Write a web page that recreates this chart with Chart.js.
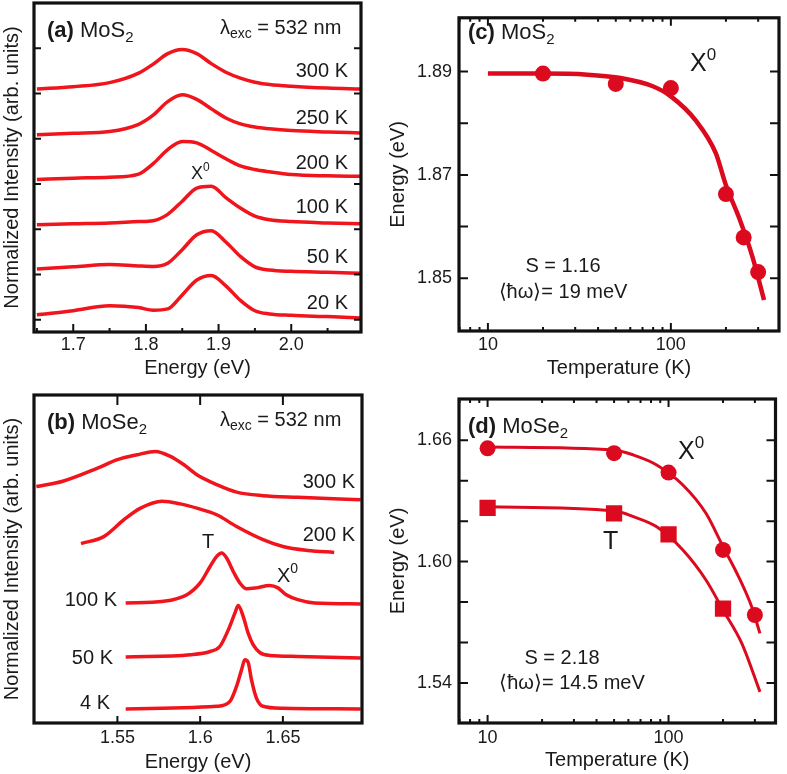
<!DOCTYPE html>
<html>
<head>
<meta charset="utf-8">
<script src="https://cdn.jsdelivr.net/npm/chart.js@4.4.1/dist/chart.umd.min.js"></script>
<style>
  html, body { margin: 0; padding: 0; background: #fff; }
  #wrap { position: relative; width: 787px; height: 774px; }
  .panel { position: absolute; }
</style>
</head>
<body>
<div id="wrap">
  <div class="panel" style="left:0;top:0"><canvas id="chartA" width="370" height="380"></canvas></div>
  <div class="panel" style="left:0;top:380px"><canvas id="chartB" width="370" height="394"></canvas></div>
  <div class="panel" style="left:370px;top:0"><canvas id="chartC" width="417" height="380"></canvas></div>
  <div class="panel" style="left:370px;top:380px"><canvas id="chartD" width="417" height="394"></canvas></div>
</div>
<script>
const FONT = '"Liberation Sans", Arial, Helvetica, sans-serif';
const INK = '#1a1a1a';
const RED = '#f0141c';
const DARK_RED = '#dc0a1e';

// ---- (a) MoS2 PL spectra, normalized, stacked by offset ----
const mos2Energy = [1.65, 1.70, 1.75, 1.79, 1.81, 1.83, 1.85, 1.87, 1.89, 1.91, 1.93, 1.95, 1.97, 2.00, 2.05, 2.095];
const mos2Labels = ['20 K', '50 K', '100 K', '200 K', '250 K', '300 K'];
const mos2Offsets = [0, 1, 2, 3, 4, 5];
const mos2I20  = [0.11, 0.20, 0.31, 0.27, 0.21, 0.24, 0.55, 0.88, 0.98, 0.75, 0.43, 0.20, 0.13, 0.10, 0.07, 0.04];
const mos2I50  = [0.12, 0.17, 0.22, 0.19, 0.18, 0.25, 0.55, 0.88, 0.97, 0.72, 0.40, 0.17, 0.10, 0.07, 0.05, 0.03];
const mos2I100 = [0.10, 0.12, 0.14, 0.17, 0.19, 0.33, 0.62, 0.91, 0.95, 0.70, 0.47, 0.29, 0.21, 0.17, 0.14, 0.12];
const mos2I200 = [0.10, 0.13, 0.15, 0.22, 0.45, 0.76, 0.94, 0.91, 0.74, 0.56, 0.40, 0.32, 0.27, 0.21, 0.18, 0.17];
const mos2I250 = [0.09, 0.12, 0.16, 0.32, 0.52, 0.82, 0.97, 0.87, 0.66, 0.46, 0.33, 0.26, 0.22, 0.18, 0.15, 0.13];
const mos2I300 = [0.10, 0.15, 0.24, 0.45, 0.65, 0.88, 0.97, 0.88, 0.66, 0.47, 0.34, 0.25, 0.20, 0.16, 0.12, 0.10];
const mos2XTicks = [1.7, 1.8, 1.9, 2.0];
const mos2XMinor = [1.65, 1.75, 1.85, 1.95, 2.05];
const mos2YTicks = [0, 1, 2, 3, 4, 5, 6];

// ---- (b) MoSe2 PL spectra (offset intensity, arb. units) ----
const mose2E300 = [1.501, 1.517, 1.538, 1.550, 1.562, 1.573, 1.582, 1.590, 1.598, 1.610, 1.622, 1.638, 1.659, 1.697];
const mose2I300 = [7.21, 7.37, 7.77, 8.03, 8.18, 8.28, 8.13, 7.88, 7.57, 7.27, 7.04, 6.93, 6.88, 6.81];
const mose2E200 = [1.528, 1.542, 1.554, 1.564, 1.577, 1.588, 1.598, 1.610, 1.622, 1.638, 1.650, 1.665, 1.681];
const mose2I200 = [5.47, 5.69, 6.20, 6.55, 6.76, 6.68, 6.55, 6.35, 5.99, 5.59, 5.38, 5.26, 5.20];
const mose2E100 = [1.555, 1.578, 1.592, 1.600, 1.606, 1.610, 1.613, 1.616, 1.620, 1.624, 1.628, 1.634, 1.642, 1.647, 1.652, 1.659, 1.669, 1.697];
const mose2I100 = [3.66, 3.71, 3.91, 4.27, 4.77, 5.08, 5.18, 5.03, 4.62, 4.27, 4.09, 4.12, 4.19, 4.12, 3.91, 3.76, 3.66, 3.63];
const mose2E50  = [1.555, 1.594, 1.606, 1.612, 1.617, 1.621, 1.623, 1.626, 1.629, 1.632, 1.636, 1.642, 1.659, 1.697];
const mose2I50  = [2.01, 2.08, 2.18, 2.34, 2.84, 3.35, 3.58, 3.25, 2.74, 2.39, 2.15, 2.06, 2.03, 1.98];
const mose2E4   = [1.555, 1.610, 1.618, 1.622, 1.625, 1.627, 1.629, 1.631, 1.634, 1.638, 1.650, 1.697];
const mose2I4   = [0.43, 0.51, 0.66, 1.12, 1.62, 1.93, 1.85, 1.32, 0.76, 0.51, 0.45, 0.43];
const mose2XTicks = [1.55, 1.6, 1.65];

// ---- (c) MoS2 X0 peak energy vs temperature ----
const mos2Temp = [20, 50, 100, 200, 250, 300];
const mos2X0 = [1.8896, 1.8876, 1.8868, 1.8663, 1.8579, 1.8512];
const mos2FitT = [10, 20, 35, 52, 79, 100, 137, 176, 200, 236, 279, 323];
const mos2FitE = [1.8896, 1.8896, 1.8894, 1.8888, 1.8872, 1.8852, 1.8805, 1.8742, 1.8680, 1.8617, 1.8542, 1.8458];
const mos2EnTicks = [1.85, 1.87, 1.89];
const mos2EnAll = [1.85, 1.86, 1.87, 1.88, 1.89];

// ---- (d) MoSe2 X0 and T peak energies vs temperature ----
const mose2TempX0 = [10, 50, 100, 200, 300];
const mose2X0 = [1.6560, 1.6536, 1.6440, 1.6058, 1.5736];
const mose2TempT = [10, 50, 100, 200];
const mose2Trion = [1.6266, 1.6239, 1.6135, 1.5768];
const mose2FitXT = [10, 50, 64, 86, 120, 161, 200, 244, 288, 320];
const mose2FitXE = [1.6567, 1.6552, 1.6527, 1.6478, 1.6379, 1.6239, 1.6074, 1.5925, 1.5777, 1.5645];
const mose2FitTT = [10, 50, 64, 86, 120, 161, 200, 254, 320];
const mose2FitTE = [1.6271, 1.6251, 1.6222, 1.6172, 1.6057, 1.5909, 1.5761, 1.5596, 1.5356];
const mose2EnTicks = [1.54, 1.60, 1.66];
const mose2EnAll = [1.54, 1.56, 1.58, 1.60, 1.62, 1.64, 1.66];

const tempMajor = [10, 100];
const tempMinor = [7, 8, 9, 20, 30, 40, 50, 60, 70, 80, 90, 200, 300];

Chart.defaults.font.family = FONT;
Chart.defaults.color = INK;

const pts = (xs, ys, off) => xs.map((x, i) => ({ x: x, y: ys[i] + (off || 0) }));

// frame box and inward ticks
const frameTicks = {
  id: 'frameTicks',
  afterDatasetsDraw(chart, args, o) {
    const { ctx, chartArea: a } = chart;
    const sx = chart.scales.x, sy = chart.scales.y;
    ctx.save();
    ctx.strokeStyle = '#111';
    ctx.lineWidth = 2;
    ctx.beginPath();
    const xt = (vals, len, lenTop) => vals.forEach(v => {
      const p = sx.getPixelForValue(v);
      if (len) { ctx.moveTo(p, a.bottom); ctx.lineTo(p, a.bottom - len); }
      if (lenTop) { ctx.moveTo(p, a.top); ctx.lineTo(p, a.top + lenTop); }
    });
    const yt = (vals, len, right) => vals.forEach(v => {
      const p = sy.getPixelForValue(v);
      ctx.moveTo(a.left, p); ctx.lineTo(a.left + len, p);
      if (right) { ctx.moveTo(a.right, p); ctx.lineTo(a.right - len, p); }
    });
    xt(o.xMajor || [], o.xMajLen, o.xTopMajLen);
    xt(o.xMinor || [], o.xMinLen, o.xTopMinLen);
    yt(o.yTicks || [], o.yLen, o.yRight);
    ctx.stroke();
    ctx.lineWidth = 3.2;
    ctx.strokeRect(a.left, a.top, a.right - a.left, a.bottom - a.top);
    ctx.restore();
  }
};

// rich text notes (subscripts / superscripts)
const notes = {
  id: 'notes',
  afterDraw(chart, args, o) {
    const ctx = chart.ctx;
    ctx.save();
    ctx.fillStyle = INK;
    ctx.textBaseline = 'middle';
    ctx.textAlign = 'left';
    (o.items || []).forEach(it => {
      const parts = it.parts.map(p => {
        const small = p[1] === 'sub' || p[1] === 'sup';
        const fs = small ? Math.round(it.size * 0.68) : it.size;
        const font = (p[1] === 'b' ? 'bold ' : '') + fs + 'px ' + FONT;
        ctx.font = font;
        const dy = p[1] === 'sub' ? it.size * 0.32 : p[1] === 'sup' ? -it.size * 0.36 : 0;
        return { t: p[0], font: font, w: ctx.measureText(p[0]).width, dy: dy };
      });
      const total = parts.reduce((s, q) => s + q.w, 0);
      let x = it.align === 'right' ? it.x - total : it.align === 'center' ? it.x - total / 2 : it.x;
      parts.forEach(q => {
        ctx.font = q.font;
        ctx.fillText(q.t, x, it.y + q.dy);
        x += q.w;
      });
    });
    ctx.restore();
  }
};

function baseOptions(cfg) {
  return {
    responsive: false,
    animation: false,
    events: [],
    layout: { padding: cfg.padding },
    plugins: {
      legend: { display: false },
      tooltip: { enabled: false },
      frameTicks: cfg.frame,
      notes: { items: cfg.notes }
    },
    scales: {
      x: {
        type: cfg.xType || 'linear',
        min: cfg.xMin, max: cfg.xMax,
        grid: { display: false, drawTicks: false },
        border: { display: false },
        afterBuildTicks: s => { s.ticks = cfg.xTicks.map(v => ({ value: v })); },
        afterFit: s => { s.height = cfg.xHeight; },
        ticks: {
          autoSkip: false, maxRotation: 0, padding: cfg.xPad,
          font: { size: 18 }, color: INK,
          callback: cfg.xFmt
        },
        title: {
          display: true, text: cfg.xTitle,
          font: { size: 20, lineHeight: 1.2 }, color: INK,
          padding: { top: 0, bottom: cfg.xTitlePad }
        }
      },
      y: {
        type: 'linear',
        min: cfg.yMin, max: cfg.yMax,
        grid: { display: false, drawTicks: false },
        border: { display: false },
        afterBuildTicks: s => { s.ticks = cfg.yTicks.map(v => ({ value: v })); },
        afterFit: s => { s.width = cfg.yWidth; },
        ticks: {
          display: cfg.yLabels, padding: 7,
          font: { size: 18 }, color: INK,
          callback: v => v.toFixed(2)
        },
        title: {
          display: true, text: cfg.yTitle,
          font: { size: 20, lineHeight: 1.2 }, color: INK,
          padding: { top: cfg.yTitlePad, bottom: 0 }
        }
      }
    }
  };
}

function spectrum(data) {
  return {
    data: data, borderColor: RED, borderWidth: 3.5, pointRadius: 0,
    showLine: true, fill: false, cubicInterpolationMode: 'monotone'
  };
}

// ---------- (a) ----------
const mos2Spectra = [mos2I20, mos2I50, mos2I100, mos2I200, mos2I250, mos2I300];
new Chart(document.getElementById('chartA'), {
  type: 'scatter',
  data: { datasets: mos2Spectra.map((arr, k) => spectrum(pts(mos2Energy, arr, mos2Offsets[k]))) },
  options: baseOptions({
    padding: { left: 0, top: 3, right: 9, bottom: 0 },
    xMin: 1.646, xMax: 2.096, xTicks: mos2XTicks, xFmt: v => v.toFixed(1),
    xHeight: 48, xPad: 2, xTitle: 'Energy (eV)', xTitlePad: 0,
    yMin: -0.27, yMax: 7.0, yTicks: mos2YTicks, yLabels: false, yWidth: 34,
    yTitle: 'Normalized Intensity (arb. units)', yTitlePad: 0,
    frame: { xMajor: mos2XTicks, xMinor: mos2XMinor, xMajLen: 8, xMinLen: 4, yTicks: mos2YTicks, yLen: 7, yRight: true },
    notes: [
      { x: 47, y: 31, size: 22, parts: [['(a)', 'b'], [' MoS'], ['2', 'sub']] },
      { x: 220, y: 28, size: 20, parts: [['λ'], ['exc', 'sub'], [' = 532 nm']] },
      { x: 348, y: 303, size: 20, align: 'right', parts: [[mos2Labels[0]]] },
      { x: 348, y: 257, size: 20, align: 'right', parts: [[mos2Labels[1]]] },
      { x: 348, y: 207, size: 20, align: 'right', parts: [[mos2Labels[2]]] },
      { x: 348, y: 163, size: 20, align: 'right', parts: [[mos2Labels[3]]] },
      { x: 348, y: 118, size: 20, align: 'right', parts: [[mos2Labels[4]]] },
      { x: 348, y: 71, size: 20, align: 'right', parts: [[mos2Labels[5]]] },
      { x: 191, y: 174, size: 18, parts: [['X'], ['0', 'sup']] }
    ]
  }),
  plugins: [frameTicks, notes]
});

// ---------- (b) ----------
const mose2Sets = [[mose2E300, mose2I300], [mose2E200, mose2I200], [mose2E100, mose2I100], [mose2E50, mose2I50], [mose2E4, mose2I4]];
new Chart(document.getElementById('chartB'), {
  type: 'scatter',
  data: { datasets: mose2Sets.map(s => spectrum(pts(s[0], s[1]))) },
  options: baseOptions({
    padding: { left: 0, top: 15, right: 8, bottom: 0 },
    xMin: 1.4996, xMax: 1.6978, xTicks: mose2XTicks, xFmt: v => String(v),
    xHeight: 51, xPad: 4, xTitle: 'Energy (eV)', xTitlePad: 0,
    yMin: 0, yMax: 10, yTicks: [], yLabels: false, yWidth: 34,
    yTitle: 'Normalized Intensity (arb. units)', yTitlePad: 0,
    frame: { xMajor: mose2XTicks, xMajLen: 7, xTopMajLen: 10, yTicks: [], yLen: 0 },
    notes: [
      { x: 47, y: 43, size: 22, parts: [['(b)', 'b'], [' MoSe'], ['2', 'sub']] },
      { x: 220, y: 40, size: 20, parts: [['λ'], ['exc', 'sub'], [' = 532 nm']] },
      { x: 355, y: 102, size: 20, align: 'right', parts: [['300 K']] },
      { x: 355, y: 155, size: 20, align: 'right', parts: [['200 K']] },
      { x: 117, y: 220, size: 20, align: 'right', parts: [['100 K']] },
      { x: 113, y: 278, size: 20, align: 'right', parts: [['50 K']] },
      { x: 110, y: 323, size: 20, align: 'right', parts: [['4 K']] },
      { x: 208, y: 162, size: 20, align: 'center', parts: [['T']] },
      { x: 277, y: 196, size: 20, parts: [['X'], ['0', 'sup']] }
    ]
  }),
  plugins: [frameTicks, notes]
});

// ---------- (c) ----------
const cOpts = baseOptions({
  padding: { left: 0, top: 5, right: 7, bottom: 0 },
  xType: 'logarithmic', xMin: 6.95, xMax: 390, xTicks: tempMajor, xFmt: v => String(v),
  xHeight: 49, xPad: 3, xTitle: 'Temperature (K)', xTitlePad: 0,
  yMin: 1.8398, yMax: 1.9004, yTicks: mos2EnTicks, yLabels: true, yWidth: 89,
  yTitle: 'Energy (eV)', yTitlePad: 16,
  frame: { xMajor: tempMajor, xMinor: tempMinor, xMajLen: 8, xMinLen: 4, xTopMajLen: 8, xTopMinLen: 4, yTicks: mos2EnAll, yLen: 9, yRight: true },
  notes: [
    { x: 98, y: 33, size: 22, parts: [['(c)', 'b'], [' MoS'], ['2', 'sub']] },
    { x: 320, y: 64, size: 25, parts: [['X'], ['0', 'sup']] },
    { x: 193, y: 266, size: 20, align: 'center', parts: [['S = 1.16']] },
    { x: 193, y: 292, size: 20, align: 'center', parts: [['⟨ħω⟩= 19 meV']] }
  ]
});
new Chart(document.getElementById('chartC'), {
  type: 'scatter',
  data: {
    datasets: [
      { data: pts(mos2Temp, mos2X0), backgroundColor: DARK_RED, borderColor: DARK_RED, pointRadius: 8, pointBorderWidth: 0, pointStyle: 'circle' },
      { data: pts(mos2FitT, mos2FitE), showLine: true, borderColor: DARK_RED, borderWidth: 4.5, pointRadius: 0, cubicInterpolationMode: 'monotone' }
    ]
  },
  options: cOpts,
  plugins: [frameTicks, notes]
});

// ---------- (d) ----------
const dOpts = baseOptions({
  padding: { left: 0, top: 19, right: 7, bottom: 0 },
  xType: 'logarithmic', xMin: 6.95, xMax: 390, xTicks: tempMajor, xFmt: v => String(v),
  xHeight: 51, xPad: 4, xTitle: 'Temperature (K)', xTitlePad: 2,
  yMin: 1.5202, yMax: 1.6804, yTicks: mose2EnTicks, yLabels: true, yWidth: 89,
  yTitle: 'Energy (eV)', yTitlePad: 16,
  frame: { xMajor: tempMajor, xMinor: tempMinor, xMajLen: 8, xMinLen: 4, xTopMajLen: 8, xTopMinLen: 4, yTicks: mose2EnAll, yLen: 9, yRight: true },
  notes: [
    { x: 98, y: 47, size: 22, parts: [['(d)', 'b'], [' MoSe'], ['2', 'sub']] },
    { x: 308, y: 72, size: 25, parts: [['X'], ['0', 'sup']] },
    { x: 233, y: 162, size: 25, parts: [['T']] },
    { x: 192, y: 278, size: 20, align: 'center', parts: [['S = 2.18']] },
    { x: 202, y: 303, size: 20, align: 'center', parts: [['⟨ħω⟩= 14.5 meV']] }
  ]
});
new Chart(document.getElementById('chartD'), {
  type: 'scatter',
  data: {
    datasets: [
      { data: pts(mose2TempX0, mose2X0), backgroundColor: DARK_RED, borderColor: DARK_RED, pointRadius: 8, pointBorderWidth: 0, pointStyle: 'circle' },
      { data: pts(mose2TempT, mose2Trion), backgroundColor: DARK_RED, borderColor: DARK_RED, pointRadius: 11.5, pointBorderWidth: 0, pointStyle: 'rect' },
      { data: pts(mose2FitXT, mose2FitXE), showLine: true, borderColor: DARK_RED, borderWidth: 3, pointRadius: 0, cubicInterpolationMode: 'monotone' },
      { data: pts(mose2FitTT, mose2FitTE), showLine: true, borderColor: DARK_RED, borderWidth: 3, pointRadius: 0, cubicInterpolationMode: 'monotone' }
    ]
  },
  options: dOpts,
  plugins: [frameTicks, notes]
});
</script>
</body>
</html>
